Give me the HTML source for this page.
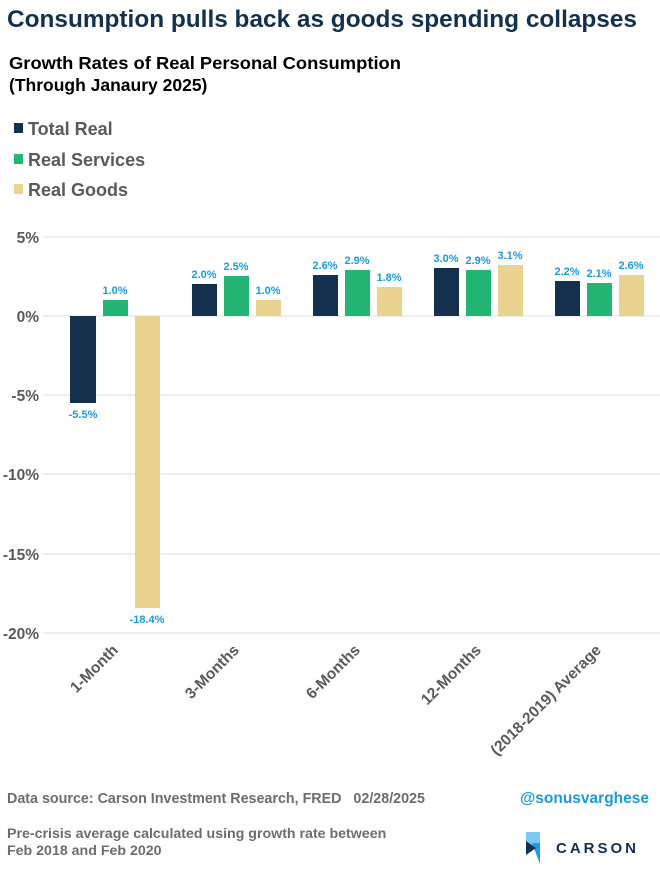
<!DOCTYPE html>
<html><head><meta charset="utf-8"><style>
body{margin:0;background:#fff;}
svg{display:block;font-family:"Liberation Sans",Arial,sans-serif;}
</style></head><body>
<svg width="660" height="880" viewBox="0 0 660 880">
<text x="7" y="27" font-size="24.3" font-weight="bold" fill="#13304f" textLength="630" lengthAdjust="spacingAndGlyphs">Consumption pulls back as goods spending collapses</text>
<text x="9" y="69" font-size="17.5" font-weight="bold" fill="#000" textLength="392" lengthAdjust="spacingAndGlyphs">Growth Rates of Real Personal Consumption</text>
<text x="9" y="91" font-size="17.5" font-weight="bold" fill="#000">(Through Janaury 2025)</text>
<rect x="14" y="123" width="9" height="10" fill="#13304f"/>
<text x="28" y="135" font-size="18" font-weight="bold" fill="#5a5a5a">Total Real</text>
<rect x="14" y="154" width="9" height="10" fill="#22b573"/>
<text x="28" y="166" font-size="18" font-weight="bold" fill="#5a5a5a">Real Services</text>
<rect x="14" y="184" width="9" height="10" fill="#ead38f"/>
<text x="28" y="196" font-size="18" font-weight="bold" fill="#5a5a5a">Real Goods</text>
<g stroke="#dedede" stroke-width="1">
<line x1="43" x2="660" y1="237" y2="237"/><line x1="43" x2="660" y1="316" y2="316"/>
<line x1="43" x2="660" y1="395" y2="395"/><line x1="43" x2="660" y1="474" y2="474"/>
<line x1="43" x2="660" y1="554" y2="554"/><line x1="43" x2="660" y1="633" y2="633"/>
</g>
<g font-size="15.5" font-weight="bold" fill="#5a5a5a" text-anchor="end">
<text x="39" y="243">5%</text><text x="39" y="322">0%</text><text x="39" y="401">-5%</text>
<text x="39" y="480">-10%</text><text x="39" y="560">-15%</text><text x="39" y="639">-20%</text>
</g>
<g>
<rect x="70" y="316" width="26" height="87" fill="#13304f"/>
<rect x="103" y="300" width="25" height="16" fill="#22b573"/>
<rect x="135" y="316" width="25" height="292" fill="#ead38f"/>
<rect x="192" y="284" width="25" height="32" fill="#13304f"/>
<rect x="224" y="276" width="25" height="40" fill="#22b573"/>
<rect x="256" y="300" width="25" height="16" fill="#ead38f"/>
<rect x="313" y="275" width="25" height="41" fill="#13304f"/>
<rect x="345" y="270" width="25" height="46" fill="#22b573"/>
<rect x="377" y="287" width="25" height="29" fill="#ead38f"/>
<rect x="434" y="268" width="25" height="48" fill="#13304f"/>
<rect x="466" y="270" width="25" height="46" fill="#22b573"/>
<rect x="498" y="265" width="25" height="51" fill="#ead38f"/>
<rect x="555" y="281" width="25" height="35" fill="#13304f"/>
<rect x="587" y="283" width="25" height="33" fill="#22b573"/>
<rect x="619" y="275" width="25" height="41" fill="#ead38f"/>
</g>
<g font-size="11" font-weight="bold" fill="#1a9ae0" text-anchor="middle">
<text x="83" y="418">-5.5%</text><text x="115" y="294">1.0%</text><text x="147" y="623">-18.4%</text>
<text x="204" y="278">2.0%</text><text x="236" y="270">2.5%</text><text x="268" y="294">1.0%</text>
<text x="325" y="269">2.6%</text><text x="357" y="264">2.9%</text><text x="389" y="281">1.8%</text>
<text x="446" y="262">3.0%</text><text x="478" y="264">2.9%</text><text x="510" y="259">3.1%</text>
<text x="567" y="275">2.2%</text><text x="599" y="277">2.1%</text><text x="631" y="269">2.6%</text>
</g>
<g font-size="15.5" font-weight="bold" fill="#5a5a5a" text-anchor="end">
<text transform="translate(119,651) rotate(-45)">1-Month</text>
<text transform="translate(240,651) rotate(-45)">3-Months</text>
<text transform="translate(361,651) rotate(-45)">6-Months</text>
<text transform="translate(482,651) rotate(-45)">12-Months</text>
<text transform="translate(602,651) rotate(-45)">(2018-2019) Average</text>
</g>
<text x="7" y="803" font-size="14.3" font-weight="bold" fill="#6d6d6d" xml:space="preserve" style="white-space:pre">Data source: Carson Investment Research, FRED   02/28/2025</text>
<text x="649" y="803" font-size="15.5" font-weight="bold" fill="#1a9ae0" text-anchor="end">@sonusvarghese</text>
<text x="7" y="838" font-size="14.2" font-weight="bold" fill="#6d6d6d">Pre-crisis average calculated using growth rate between</text>
<text x="7" y="855" font-size="14.2" font-weight="bold" fill="#6d6d6d">Feb 2018 and Feb 2020</text>
<polygon points="526,832 540,832 540,847 526,847" fill="#7fc8f5"/>
<polygon points="532,843 540,843 540,864" fill="#1f9ae6"/>
<polygon points="526,841 536,848 526,855" fill="#13304f"/>
<text x="556" y="853" font-size="15" font-weight="bold" fill="#13304f" letter-spacing="3">CARSON</text>
</svg>
</body></html>
